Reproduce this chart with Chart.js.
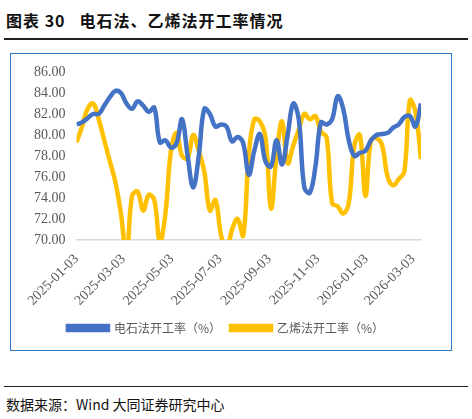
<!DOCTYPE html>
<html><head><meta charset="utf-8">
<script src="https://cdn.jsdelivr.net/npm/chart.js@4"></script>
<style>
body{margin:0;width:472px;height:419px;background:#fff;font-family:"Noto Sans CJK SC";position:relative;overflow:hidden}
#title{position:absolute;left:6px;top:8px;font-size:16px;font-weight:bold;color:#111;letter-spacing:1px}
#tl{position:absolute;left:4px;top:38px;width:464px;border-top:2px solid #222}
#frame{position:absolute;left:10px;top:53px;width:440px;height:296px;border:1.5px solid #2f79c8}
#bl{position:absolute;left:4px;top:386px;width:464px;border-top:1px solid #222}
#src{position:absolute;left:6px;top:394px;font-size:14px;color:#111}
</style></head><body>
<div id="title">图表 30&nbsp;&nbsp;&nbsp;电石法、乙烯法开工率情况</div>
<div id="tl"></div>
<div id="frame"><canvas id="c" width="440" height="296"></canvas></div>
<div id="bl"></div>
<div id="src">数据来源：Wind 大同证券研究中心</div>
<script>
// 周度开工率（%）
const startDate = '2025-01-03';
const tickDates = ['2025-01-03','2025-03-03','2025-05-03','2025-07-03','2025-09-03','2025-11-03','2026-01-03','2026-03-03'];
const carbide = [81,81.2,81.6,82,82,82.8,83.6,84.2,84,83,82.5,83.2,82.8,82.2,82.6,79.3,79.5,78.8,79.2,81.5,78,75,78,82.5,82,80.8,81,80.8,79.4,79.8,79.2,76.2,78.5,80.1,77.5,77,79.5,77.2,80,83,81.5,75,74.5,77,81.2,81,81.5,83.7,82.5,79.5,78,78.3,78.5,79.5,80,80.1,80.2,80.7,81,81.7,81.8,80.8,83];
const ethylene = [79.3,80.8,82.5,83,81.5,79.5,77.5,75.5,72.5,68.5,74.2,74.6,72.8,74.3,73.8,69.8,72.5,78.5,80.2,78,77.8,80,78.5,76.5,72.8,73.8,70.5,69,71,72,70.4,78,81.5,81.3,79.8,73,78,81.3,77.3,79,80.5,82,81.5,81.8,80.3,79.8,73.5,73.2,72.5,73.5,79,80,74.2,79.5,79.7,79,76,75.2,75.8,76.5,83.3,82.2,77.7];

const day = 86400000;
const t0 = Date.parse(startDate);
const toDays = d => (Date.parse(d) - t0) / day;
const pts = arr => arr.map((v, i) => ({x: i * 7, y: v}));

function ds(label, data, color, width) {
  return {label, data: pts(data), borderColor: color, borderWidth: width, pointRadius: 0,
    tension: 0.4, fill: false};
}

new Chart(document.getElementById('c'), {
  type: 'line',
  data: {datasets: [
    ds('电石法开工率（%）', carbide, '#4472c4', 4.5),
    ds('w1', carbide, '#ffffff', 1.3),
    ds('乙烯法开工率（%）', ethylene, '#ffc000', 4.5),
    ds('w2', ethylene, '#ffffff', 1.3)
  ]},
  options: {
    responsive: false, animation: false,
    layout: {padding: {left: 20, right: 30, top: 18, bottom: 6}},
    plugins: {
      legend: {position: 'bottom', labels: {filter: it => !it.text.startsWith('w'),
        boxWidth: 40, boxHeight: 4, color: '#595959',
        font: {family: 'Noto Sans CJK SC', size: 12}}},
      tooltip: {enabled: false}
    },
    scales: {
      x: {type: 'linear', min: 0, max: (carbide.length - 1) * 7,
        afterBuildTicks: s => { s.ticks = tickDates.map(d => ({value: toDays(d)})); },
        ticks: {autoSkip: false, maxRotation: 45, minRotation: 45, color: '#595959',
          font: {family: 'Liberation Serif', size: 14},
          callback: (v) => tickDates.find(d => toDays(d) === v) || ''},
        grid: {display: false}, border: {color: '#d9d9d9', width: 1.5}},
      y: {min: 70, max: 86, ticks: {stepSize: 2, color: '#595959',
          font: {family: 'Liberation Serif', size: 14}, callback: v => v.toFixed(2)},
        grid: {display: false}, border: {display: false}}
    }
  }
});
</script>
</body></html>
